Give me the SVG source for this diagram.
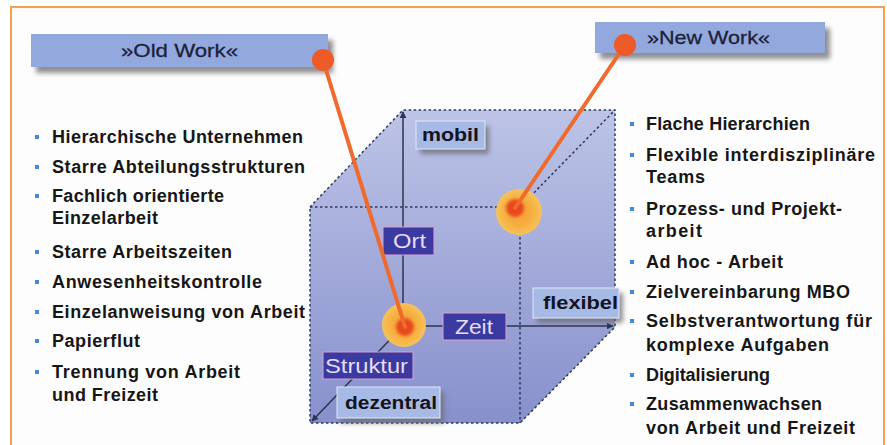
<svg xmlns="http://www.w3.org/2000/svg" width="887" height="445" viewBox="0 0 887 445">
<defs>
<linearGradient id="cubeGrad" x1="0" y1="0" x2="0" y2="1">
<stop offset="0" stop-color="#bdc4e7"/>
<stop offset="1" stop-color="#8790cc"/>
</linearGradient>
<radialGradient id="halo" cx="0.5" cy="0.5" r="0.5">
<stop offset="0" stop-color="#f39a38"/>
<stop offset="0.6" stop-color="#f6b040"/>
<stop offset="1" stop-color="#f7c25a"/>
</radialGradient>
<filter id="shadow" x="-20%" y="-40%" width="140%" height="200%">
<feGaussianBlur stdDeviation="2.5"/>
</filter>
<filter id="soft" x="-50%" y="-50%" width="200%" height="200%">
<feGaussianBlur stdDeviation="1.8"/>
</filter>
<marker id="arrow" viewBox="0 0 10 10" refX="9" refY="5" markerWidth="7" markerHeight="7" orient="auto" markerUnits="userSpaceOnUse">
<path d="M0,0 L10,5 L0,10 z" fill="#2b3550"/>
</marker>
</defs>
<style>
.frame{fill:#fdfdfd;stroke:#f4a050;stroke-width:2}
.title{fill:#93a9de}
.shadowbox{fill:#6a6a70;opacity:0.75}
.titletext{font-family:"Liberation Sans",Arial,sans-serif;font-size:19px;fill:#1c1f3a;stroke:#1c1f3a;stroke-width:0.3}
.dash{fill:none;stroke:#2c3a58;stroke-width:1.5;stroke-dasharray:2.5 2.5}
.axis{fill:none;stroke:#2b3550;stroke-width:1.5}
.light{fill:#a7bae5;stroke:#e2e8f7;stroke-width:1}
.dark{fill:#3a3aa0;stroke:#d9a0d0;stroke-width:1}
.lt{font-family:"Liberation Sans",Arial,sans-serif;font-weight:700;font-size:18px;fill:#141420}
.dt{font-family:"Liberation Sans",Arial,sans-serif;font-size:20px;fill:#e8dcf8}
.item{font-family:"Liberation Sans",Arial,sans-serif;font-weight:700;font-size:18px;fill:#161616}
.bullet{fill:#3d8ae0}
.link{stroke:#ef6a2c;stroke-width:4;stroke-linecap:round}
.end{fill:#ee5a28}
.core{fill:#e8481f}
</style>

<rect class="frame" x="11" y="7" width="873" height="450"/>

<g id="cube">
<polygon points="310,207 403,110 615,110 615,327 520,423 310,423" fill="url(#cubeGrad)"/>
<polygon class="dash" points="310,207 403,110 615,110 615,327 520,423 310,423"/>
<polyline class="dash" points="310,207 520,207 520,423"/>
<line class="dash" x1="520" y1="207" x2="615" y2="110"/>
<line class="axis" x1="403" y1="326" x2="403" y2="112" marker-end="url(#arrow)"/>
<line class="axis" x1="403" y1="326" x2="613" y2="326" marker-end="url(#arrow)"/>
<line class="axis" x1="403" y1="326" x2="312" y2="421" marker-end="url(#arrow)"/>
</g>

<g id="label-mobil">
<rect class="shadowbox" x="420" y="126" width="69" height="28" filter="url(#shadow)"/>
<rect class="light" x="416" y="121" width="69" height="28"/>
<text class="lt" x="450.5" y="141" text-anchor="middle" textLength="57" lengthAdjust="spacingAndGlyphs">mobil</text>
</g>
<g id="label-flexibel">
<rect class="shadowbox" x="537" y="293" width="86" height="30" filter="url(#shadow)"/>
<rect class="light" x="533" y="288" width="86" height="30"/>
<text class="lt" x="580.5" y="309" text-anchor="middle" textLength="75" lengthAdjust="spacingAndGlyphs">flexibel</text>
</g>
<g id="label-dezentral">
<rect class="shadowbox" x="341" y="392" width="103" height="31" filter="url(#shadow)"/>
<rect class="light" x="337" y="387" width="103" height="31"/>
<text class="lt" x="391" y="409" text-anchor="middle" textLength="92" lengthAdjust="spacingAndGlyphs">dezentral</text>
</g>
<g id="label-ort">
<rect class="dark" x="383" y="227" width="51" height="28"/>
<text class="dt" x="409.5" y="248" text-anchor="middle" textLength="33" lengthAdjust="spacingAndGlyphs">Ort</text>
</g>
<g id="label-zeit">
<rect class="dark" x="443" y="313" width="63" height="27"/>
<text class="dt" x="474" y="334" text-anchor="middle" textLength="38" lengthAdjust="spacingAndGlyphs">Zeit</text>
</g>
<g id="label-struktur">
<rect class="dark" x="323" y="352" width="90" height="27"/>
<text class="dt" x="366.5" y="373" text-anchor="middle" textLength="83" lengthAdjust="spacingAndGlyphs">Struktur</text>
</g>

<g id="point-old">
<circle cx="404" cy="325" r="22" fill="url(#halo)"/>
<circle class="core" cx="405" cy="327" r="9" filter="url(#soft)"/>
</g>
<g id="point-new">
<circle cx="519" cy="212" r="23" fill="url(#halo)"/>
<circle class="core" cx="515" cy="208" r="9" filter="url(#soft)"/>
</g>

<g id="old-work">
<rect class="shadowbox" x="36" y="40" width="297" height="33" filter="url(#shadow)"/>
<rect class="title" x="31" y="34" width="297" height="33"/>
<text class="titletext" x="179.5" y="57" text-anchor="middle" textLength="117" lengthAdjust="spacingAndGlyphs">»Old Work«</text>
</g>
<g id="new-work">
<rect class="shadowbox" x="600" y="28" width="230" height="31" filter="url(#shadow)"/>
<rect class="title" x="595" y="22" width="230" height="31"/>
<text class="titletext" x="708.5" y="44" text-anchor="middle" textLength="123" lengthAdjust="spacingAndGlyphs">»New Work«</text>
</g>

<g id="connectors">
<line class="link" x1="323" y1="60" x2="405" y2="327"/>
<line class="link" x1="625" y1="45" x2="515" y2="208"/>
<circle class="end" cx="323" cy="60" r="11"/>
<circle class="end" cx="625" cy="45" r="11"/>
</g>

<g id="old-list">
<rect class="bullet" x="35" y="135" width="4" height="4"/>
<text class="item" x="52" y="143" textLength="251">Hierarchische Unternehmen</text>
<rect class="bullet" x="35" y="165" width="4" height="4"/>
<text class="item" x="52" y="173" textLength="253">Starre Abteilungsstrukturen</text>
<rect class="bullet" x="35" y="194" width="4" height="4"/>
<text class="item" x="52" y="202" textLength="172">Fachlich orientierte</text>
<text class="item" x="52" y="224" textLength="106">Einzelarbeit</text>
<rect class="bullet" x="35" y="250" width="4" height="4"/>
<text class="item" x="52" y="258" textLength="180">Starre Arbeitszeiten</text>
<rect class="bullet" x="35" y="280" width="4" height="4"/>
<text class="item" x="52" y="288" textLength="210">Anwesenheitskontrolle</text>
<rect class="bullet" x="35" y="310" width="4" height="4"/>
<text class="item" x="52" y="318" textLength="253">Einzelanweisung von Arbeit</text>
<rect class="bullet" x="35" y="339" width="4" height="4"/>
<text class="item" x="52" y="347" textLength="88">Papierflut</text>
<rect class="bullet" x="35" y="370" width="4" height="4"/>
<text class="item" x="52" y="378" textLength="188">Trennung von Arbeit</text>
<text class="item" x="52" y="401" textLength="106">und Freizeit</text>
</g>

<g id="new-list">
<rect class="bullet" x="630" y="122" width="4" height="4"/>
<text class="item" x="646" y="130" textLength="164">Flache Hierarchien</text>
<rect class="bullet" x="630" y="153" width="4" height="4"/>
<text class="item" x="646" y="161" textLength="229">Flexible interdisziplinäre</text>
<text class="item" x="646" y="183" textLength="59">Teams</text>
<rect class="bullet" x="630" y="207" width="4" height="4"/>
<text class="item" x="646" y="215" textLength="196">Prozess- und Projekt-</text>
<text class="item" x="646" y="237" textLength="56">arbeit</text>
<rect class="bullet" x="630" y="260" width="4" height="4"/>
<text class="item" x="646" y="268" textLength="137">Ad hoc - Arbeit</text>
<rect class="bullet" x="630" y="290" width="4" height="4"/>
<text class="item" x="646" y="298" textLength="204">Zielvereinbarung MBO</text>
<rect class="bullet" x="630" y="319" width="4" height="4"/>
<text class="item" x="646" y="327" textLength="226">Selbstverantwortung für</text>
<text class="item" x="646" y="351" textLength="183">komplexe Aufgaben</text>
<rect class="bullet" x="630" y="373" width="4" height="4"/>
<text class="item" x="646" y="381" textLength="124">Digitalisierung</text>
<rect class="bullet" x="630" y="402" width="4" height="4"/>
<text class="item" x="646" y="410" textLength="176">Zusammenwachsen</text>
<text class="item" x="646" y="434" textLength="209">von Arbeit und Freizeit</text>
</g>
</svg>
